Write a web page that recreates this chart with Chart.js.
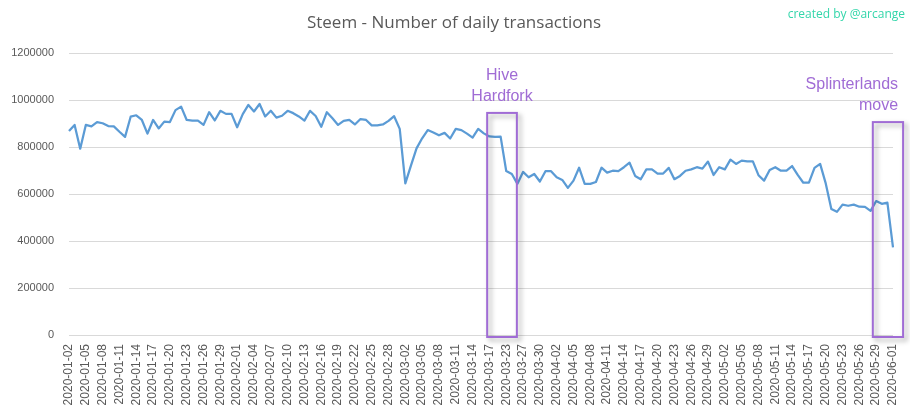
<!DOCTYPE html>
<html>
<head>
<meta charset="utf-8">
<script src="https://cdn.jsdelivr.net/npm/chart.js@4.4.0/dist/chart.umd.min.js"></script>
<style>
  html, body { margin: 0; padding: 0; background: #fff; }
  #wrap { width: 910px; height: 412px; }
</style>
</head>
<body>
<div id="wrap"><canvas id="chart" width="910" height="412"></canvas></div>
<script>
// days with no entry in the source table
const missingDays = ['2020-03-19', '2020-03-21', '2020-03-22', '2020-03-25'];
const firstDay = '2020-01-02';
const lastDay = '2020-06-01';

const transactions = [
    868000, 894000, 793000, 894000, 888000, 906000, 901000, 889000, 888000, 865000,
    843000, 929000, 935000, 915000, 857000, 915000, 879000, 908000, 906000, 957000,
    972000, 915000, 912000, 912000, 894000, 948000, 913000, 954000, 941000, 941000,
    884000, 940000, 979000, 951000, 983000, 930000, 954000, 925000, 933000, 954000,
    944000, 930000, 912000, 954000, 932000, 886000, 948000, 922000, 894000, 911000,
    915000, 896000, 919000, 915000, 892000, 892000, 896000, 911000, 931000, 877000,
    645000, 721000, 794000, 837000, 872000, 862000, 850000, 860000, 836000, 877000,
    872000, 857000, 840000, 877000, 858000, 845000, 843000, 844000, 698000, 685000,
    643000, 694000, 671000, 685000, 653000, 697000, 697000, 671000, 660000, 626000,
    657000, 712000, 643000, 643000, 651000, 712000, 691000, 699000, 697000, 714000,
    733000, 677000, 663000, 705000, 705000, 687000, 687000, 711000, 663000, 677000,
    699000, 705000, 714000, 708000, 738000, 681000, 714000, 705000, 746000, 728000,
    742000, 739000, 739000, 680000, 657000, 702000, 714000, 699000, 699000, 719000,
    681000, 648000, 648000, 711000, 728000, 645000, 536000, 524000, 555000, 550000,
    555000, 546000, 545000, 528000, 570000, 558000, 563000, 373000
];

// highlighted periods: index range, top value and caption
const events = [
    { from: 74.6, to: 79.9, top: 945000, lines: ['Hive', 'Hardfork'], align: 'center' },
    { from: 143.4, to: 148.8, top: 906000, lines: ['Splinterlands', 'move'], align: 'right' }
];

const dateLabels = [];
let d = new Date(firstDay + 'T00:00:00Z');
const end = new Date(lastDay + 'T00:00:00Z');
while (d <= end) {
    const s = d.toISOString().slice(0, 10);
    if (!missingDays.includes(s)) dateLabels.push(s);
    d = new Date(d.getTime() + 86400000);
}

const purple = '#a06cd5';

const extras = {
    id: 'extras',
    beforeDraw(chart) {
        const ctx = chart.ctx;
        ctx.save();
        ctx.fillStyle = '#ffffff';
        ctx.fillRect(0, 0, chart.width, chart.height);
        ctx.restore();
    },
    afterDatasetsDraw(chart) {
        const ctx = chart.ctx;
        const x = chart.scales.x;
        const y = chart.scales.y;
        ctx.save();
        events.forEach(ev => {
            const l = x.getPixelForValue(ev.from);
            const r = x.getPixelForValue(ev.to);
            const t = y.getPixelForValue(ev.top);
            const b = y.getPixelForValue(0) + 2;
            ctx.save();
            ctx.shadowColor = 'rgba(0,0,0,0.35)';
            ctx.shadowBlur = 5;
            ctx.shadowOffsetX = 3;
            ctx.shadowOffsetY = 3;
            ctx.strokeStyle = purple;
            ctx.lineWidth = 2;
            ctx.strokeRect(l, t, r - l, b - t);
            ctx.restore();

            ctx.fillStyle = purple;
            ctx.font = '16px "Liberation Sans", Arial, sans-serif';
            ctx.textBaseline = 'middle';
            ctx.textAlign = ev.align;
            const tx = ev.align === 'center' ? (l + r) / 2 : r - 5;
            ctx.fillText(ev.lines[0], tx, t - 37);
            ctx.fillText(ev.lines[1], tx, t - 16);
        });

        ctx.textAlign = 'center';
        ctx.textBaseline = 'middle';
        ctx.fillStyle = '#595959';
        ctx.font = '17px "Open Sans", sans-serif';
        ctx.fillText('Steem - Number of daily transactions', 454, 23);

        ctx.textAlign = 'right';
        ctx.fillStyle = '#33d6aa';
        ctx.font = '12px "Open Sans", sans-serif';
        ctx.fillText('created by @arcange', 905, 15);
        ctx.restore();
    }
};

new Chart(document.getElementById('chart'), {
    type: 'line',
    data: {
        labels: dateLabels,
        datasets: [{
            label: 'Transactions',
            data: transactions,
            borderColor: '#5b9bd5',
            borderWidth: 2.25,
            pointRadius: 0,
            tension: 0,
            borderJoinStyle: 'round',
            fill: false
        }]
    },
    options: {
        responsive: false,
        animation: false,
        layout: { padding: { top: 53, right: 17, left: 0, bottom: 0 } },
        plugins: {
            legend: { display: false },
            tooltip: { enabled: false }
        },
        scales: {
            x: {
                offset: false,
                grid: { display: false, drawTicks: false },
                border: { display: false },
                ticks: {
                    autoSkip: false,
                    minRotation: 90,
                    maxRotation: 90,
                    padding: 9,
                    color: '#595959',
                    font: { family: '"Liberation Sans", Arial, sans-serif', size: 12 },
                    callback: function (val, index) {
                        return index % 3 === 0 ? this.getLabelForValue(val) : '';
                    }
                },
                afterFit: scale => {
                    scale.height = 77;
                    scale.paddingLeft = 0;
                    scale.paddingRight = 0;
                }
            },
            y: {
                min: 0,
                max: 1200000,
                grid: { color: '#d9d9d9', lineWidth: 1, drawTicks: false },
                border: { display: false },
                ticks: {
                    stepSize: 200000,
                    padding: 15,
                    color: '#595959',
                    font: { family: '"Liberation Sans", Arial, sans-serif', size: 11 },
                    callback: v => String(v)
                },
                afterFit: scale => { scale.width = 69; }
            }
        }
    },
    plugins: [extras]
});
</script>
</body>
</html>
